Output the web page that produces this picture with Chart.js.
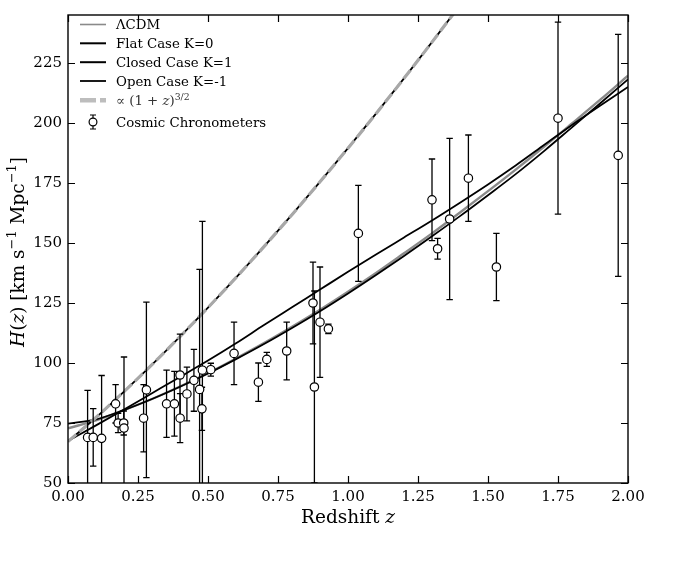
<!DOCTYPE html>
<html>
<head>
<meta charset="utf-8">
<script src="https://cdn.jsdelivr.net/npm/chart.js@4.4.1/dist/chart.umd.min.js"></script>
<style>
  html, body { margin: 0; padding: 0; background: #fff; }
  #wrap { width: 688px; height: 569px; }
</style>
</head>
<body>
<div id="wrap"><canvas id="chart" width="688" height="569"></canvas></div>
<script>
// model curves on a 0.1 redshift grid
const zGrid = [0, 0.1, 0.2, 0.3, 0.4, 0.5, 0.6, 0.7, 0.8, 0.9, 1.0, 1.1, 1.2, 1.3, 1.4, 1.5, 1.6, 1.7, 1.8, 1.9, 2.0];
const hLCDM = [72.8, 76.1, 80.4, 85.0, 90.2, 95.8, 101.9, 108.3, 115.1, 122.2, 129.7, 137.5, 145.7, 154.0, 162.7, 171.6, 180.7, 190.1, 199.8, 209.6, 219.7];
const hFlat = [67.3, 77.3, 88.1, 99.3, 111.0, 123.1, 135.6, 148.5, 161.8, 175.5, 189.5, 203.9, 218.6, 233.7, 249.1, 264.8, 280.9, 297.3, 313.9, 330.9, 348.1];
const hClosed = [74.7, 76.5, 80.4, 85.0, 90.1, 95.6, 101.6, 107.9, 114.6, 121.6, 129.0, 136.7, 144.6, 152.8, 161.2, 169.9, 178.8, 188.3, 198.2, 208.1, 218.2];
const hOpen = [67.5, 74.0, 80.6, 87.4, 94.2, 101.0, 108.2, 115.8, 123.2, 130.6, 138.0, 145.2, 152.3, 159.4, 166.8, 174.4, 182.4, 190.8, 199.2, 207.2, 215.0];
const hPow = [67.3, 77.3, 88.1, 99.3, 111.0, 123.1, 135.6, 148.5, 161.8, 175.5, 189.5, 203.9, 218.6, 233.7, 249.1, 264.8, 280.9, 297.3, 313.9, 330.9, 348.1];

// cosmic chronometer points
const ccZ = [0.07, 0.09, 0.12, 0.17, 0.179, 0.199, 0.2, 0.27, 0.28, 0.352, 0.38, 0.4, 0.4004, 0.4247, 0.4497, 0.47, 0.4783, 0.48, 0.51, 0.593, 0.68, 0.71, 0.781, 0.875, 0.88, 0.9, 0.93, 1.037, 1.3, 1.32, 1.363, 1.43, 1.53, 1.75, 1.965];
const ccH = [69, 69, 68.6, 83, 75, 75, 72.9, 77, 88.8, 83, 83, 95, 77, 87.1, 92.8, 89, 80.9, 97, 97.2, 104, 92, 101.5, 105, 125, 90, 117, 114.2, 154, 168, 147.6, 160, 177, 140, 202, 186.5];
const ccErr = [19.6, 12, 26.2, 8, 4, 5, 29.6, 14, 36.6, 14, 13.5, 17, 10.2, 11.2, 12.9, 50, 9, 62, 2.7, 13, 8, 2.9, 12, 17, 40, 23, 2, 20, 17, 4.3, 33.6, 18, 14, 40, 50.4];

const xTicks = [0, 0.25, 0.5, 0.75, 1.0, 1.25, 1.5, 1.75, 2.0];
const yTicks = [50, 75, 100, 125, 150, 175, 200, 225];

const legendLabels = ["\u039BCDM", "Flat Case K=0", "Closed Case K=1", "Open Case K=-1", "pow", "Cosmic Chronometers"];

const SERIF = '"DejaVu Serif", "Liberation Serif", serif';

function pts(ys) {
    return zGrid.map((z, i) => ({ x: z, y: ys[i] }));
}

function lineSet(label, ys, color, width, order, dash) {
    return {
        label: label,
        data: pts(ys),
        showLine: true,
        borderColor: color,
        borderWidth: width,
        borderDash: dash || [],
        pointRadius: 0,
        fill: false,
        cubicInterpolationMode: "monotone",
        order: order,
    };
}

// draw text made of runs (italic / superscript pieces)
function drawRuns(ctx, runs, x, y, size, align) {
    const fontOf = (r) => (r.italic ? "italic " : "") + (r.sup ? size * 0.7 : size) + "px " + SERIF;
    let total = 0;
    runs.forEach((r) => {
        ctx.font = fontOf(r);
        r.w = ctx.measureText(r.text).width;
        total += r.w;
    });
    let cx = align === "center" ? x - total / 2 : x;
    ctx.textAlign = "left";
    ctx.textBaseline = "alphabetic";
    runs.forEach((r) => {
        ctx.font = fontOf(r);
        ctx.fillText(r.text, cx, r.sup ? y - size * 0.42 : y);
        cx += r.w;
    });
}

const errorBars = {
    id: "errorBars",
    beforeDatasetDraw(chart, args) {
        if (chart.data.datasets[args.index].label !== "Cosmic Chronometers") return;
        const { ctx, chartArea, scales } = chart;
        ctx.save();
        ctx.beginPath();
        ctx.rect(chartArea.left, chartArea.top, chartArea.right - chartArea.left, chartArea.bottom - chartArea.top);
        ctx.clip();
        ctx.strokeStyle = "#000";
        ctx.lineWidth = 1.3;
        ccZ.forEach((z, i) => {
            const px = scales.x.getPixelForValue(z);
            const top = scales.y.getPixelForValue(ccH[i] + ccErr[i]);
            const bot = scales.y.getPixelForValue(ccH[i] - ccErr[i]);
            ctx.beginPath();
            ctx.moveTo(px, top);
            ctx.lineTo(px, bot);
            ctx.moveTo(px - 3.2, top);
            ctx.lineTo(px + 3.2, top);
            ctx.moveTo(px - 3.2, bot);
            ctx.lineTo(px + 3.2, bot);
            ctx.stroke();
        });
        ctx.restore();
    },
};

const frameTicks = {
    id: "frameTicks",
    afterDatasetsDraw(chart) {
        const { ctx, chartArea: a, scales } = chart;
        ctx.save();
        ctx.strokeStyle = "#000";
        ctx.lineWidth = 1.4;
        ctx.strokeRect(a.left, a.top, a.right - a.left, a.bottom - a.top);
        ctx.lineWidth = 1.2;
        const len = 7;
        ctx.beginPath();
        xTicks.forEach((v) => {
            const px = Math.round(scales.x.getPixelForValue(v)) + 0.5;
            ctx.moveTo(px, a.bottom);
            ctx.lineTo(px, a.bottom - len);
            ctx.moveTo(px, a.top);
            ctx.lineTo(px, a.top + len);
        });
        yTicks.forEach((v) => {
            const py = Math.round(scales.y.getPixelForValue(v)) + 0.5;
            ctx.moveTo(a.left, py);
            ctx.lineTo(a.left + len, py);
            ctx.moveTo(a.right, py);
            ctx.lineTo(a.right - len, py);
        });
        ctx.stroke();
        ctx.restore();
    },
};

const titlesAndLegend = {
    id: "titlesAndLegend",
    afterDraw(chart) {
        const { ctx, chartArea: a } = chart;
        ctx.save();
        ctx.fillStyle = "#000";

        // x title
        drawRuns(ctx, [{ text: "Redshift " }, { text: "z", italic: true }], (a.left + a.right) / 2, 523, 18.5, "center");

        // y title
        ctx.save();
        ctx.translate(24, 252);
        ctx.rotate(-Math.PI / 2);
        drawRuns(ctx, [
            { text: "H", italic: true }, { text: "(" }, { text: "z", italic: true }, { text: ") [km s" },
            { text: "\u22121", sup: true }, { text: " Mpc" }, { text: "\u22121", sup: true }, { text: "]" },
        ], 0, 0, 18.5, "center");
        ctx.restore();

        // legend
        const rows = [24.5, 43.3, 62.2, 81, 100.3, 122];
        const hx0 = 80, hx1 = 106, tx = 116, fs = 13.3;
        const styles = [
            { c: "#8a8a8a", w: 1.6 },
            { c: "#000", w: 2 },
            { c: "#000", w: 2 },
            { c: "#000", w: 1.8 },
            { c: "#bdbdbd", w: 4.5, dash: [16, 4] },
        ];
        styles.forEach((s, i) => {
            ctx.beginPath();
            ctx.strokeStyle = s.c;
            ctx.lineWidth = s.w;
            ctx.setLineDash(s.dash || []);
            ctx.moveTo(hx0, rows[i]);
            ctx.lineTo(hx1, rows[i]);
            ctx.stroke();
        });
        ctx.setLineDash([]);
        // errorbar handle
        const mx = 93, my = rows[5];
        ctx.strokeStyle = "#000";
        ctx.lineWidth = 1.2;
        ctx.beginPath();
        ctx.moveTo(mx, my - 7); ctx.lineTo(mx, my + 7);
        ctx.moveTo(mx - 3, my - 7); ctx.lineTo(mx + 3, my - 7);
        ctx.moveTo(mx - 3, my + 7); ctx.lineTo(mx + 3, my + 7);
        ctx.stroke();
        ctx.beginPath();
        ctx.fillStyle = "#fff";
        ctx.arc(mx, my, 3.9, 0, Math.PI * 2);
        ctx.fill();
        ctx.stroke();

        ctx.fillStyle = "#000";
        legendLabels.forEach((lab, i) => {
            const y = rows[i] + fs * 0.36;
            if (lab === "pow") {
                ctx.fillStyle = "#333";
                drawRuns(ctx, [{ text: "\u221D (1 + " }, { text: "z", italic: true }, { text: ")" }, { text: "3/2", sup: true }], tx, y, fs, "left");
                ctx.fillStyle = "#000";
            } else {
                drawRuns(ctx, [{ text: lab }], tx, y, fs, "left");
            }
        });
        ctx.restore();
    },
};

const tickFont = { family: SERIF, size: 15 };

new Chart(document.getElementById("chart"), {
    type: "scatter",
    data: {
        datasets: [
            {
                label: "Cosmic Chronometers",
                data: ccZ.map((z, i) => ({ x: z, y: ccH[i] })),
                pointRadius: 4.2,
                pointBackgroundColor: "#fff",
                pointBorderColor: "#000",
                pointBorderWidth: 1.2,
                showLine: false,
                order: 0,
            },
            lineSet("pow", hPow, "#a8a8a8", 3.2, 1, [11, 4]),
            lineSet("Open Case K=-1", hOpen, "#000", 1.8, 2),
            lineSet("Closed Case K=1", hClosed, "#000", 1.8, 3),
            lineSet("Flat Case K=0", hFlat, "#000", 1.8, 4),
            lineSet("LCDM", hLCDM, "#8a8a8a", 2.4, 5),
        ],
    },
    options: {
        responsive: false,
        animation: false,
        devicePixelRatio: 1,
        layout: { padding: { top: 7, right: 60, left: 0, bottom: 0 } },
        plugins: {
            legend: { display: false },
            tooltip: { enabled: false },
        },
        scales: {
            x: {
                type: "linear",
                min: 0,
                max: 2,
                grid: { display: false, drawTicks: false },
                border: { display: false },
                ticks: {
                    font: tickFont,
                    color: "#000",
                    padding: 5,
                    maxRotation: 0,
                    autoSkip: false,
                    callback: (v) => v.toFixed(2),
                },
                afterBuildTicks: (s) => { s.ticks = xTicks.map((v) => ({ value: v })); },
                afterFit: (s) => { s.height = 86; },
            },
            y: {
                type: "linear",
                min: 50,
                max: 245,
                grid: { display: false, drawTicks: false },
                border: { display: false },
                ticks: {
                    font: tickFont,
                    color: "#000",
                    padding: 6,
                    autoSkip: false,
                    callback: (v) => String(v),
                },
                afterBuildTicks: (s) => { s.ticks = yTicks.map((v) => ({ value: v })); },
                afterFit: (s) => { s.width = 68; },
            },
        },
    },
    plugins: [errorBars, frameTicks, titlesAndLegend],
});
</script>
</body>
</html>
